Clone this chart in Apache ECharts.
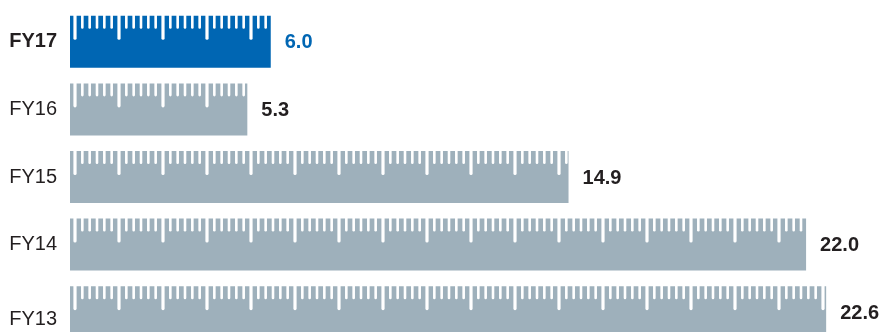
<!DOCTYPE html>
<html>
<head>
<meta charset="utf-8">
<script src="https://cdn.jsdelivr.net/npm/echarts@6/dist/echarts.min.js"></script>
<style>
  html, body { margin: 0; padding: 0; background: #fff; }
  #chart { width: 884px; height: 332px; }
</style>
</head>
<body>
<div id="chart"></div>
<script>
// 数据
const years = ['FY17', 'FY16', 'FY15', 'FY14', 'FY13'];
const amounts = [6.0, 5.3, 14.9, 22.0, 22.6];
const current = 'FY17';

const blue = '#0066b3';
const grey = '#9eb0bb';
const ink = '#231f20';
const font = '"Liberation Sans", Arial, Helvetica, sans-serif';

const chart = echarts.init(document.getElementById('chart'));

// 画尺子样式的条形
function renderRuler(params, api) {
    const v = api.value(0);
    const idx = params.dataIndex;
    const start = api.coord([0, idx]);
    const end = api.coord([v, idx]);
    const h = 52;
    const top = start[1] - h / 2;
    const isCur = years[idx] === current;
    const fill = isCur ? blue : grey;
    const children = [{
        type: 'rect',
        shape: { x: start[0], y: top, width: end[0] - start[0], height: h },
        style: { fill: fill }
    }];
    // 刻度线
    const step = 44 / 6;
    for (let k = 0; ; k++) {
        const x = start[0] + 5 + k * step;
        if (x > end[0] - 1) break;
        const major = k % 6 === 0;
        const w = major ? 3.2 : 2.6;
        const len = major ? 24 : 13;
        children.push({
            type: 'rect',
            shape: { x: x - w / 2, y: top - 1, width: w, height: len + 1, r: [0, 0, w / 2, w / 2] },
            style: { fill: '#fff' }
        });
    }
    // 数值标签
    children.push({
        type: 'text',
        style: {
            text: v.toFixed(1),
            x: end[0] + 14,
            y: start[1] + 1,
            verticalAlign: 'middle',
            align: 'left',
            fill: isCur ? blue : ink,
            fontFamily: font,
            fontWeight: 'bold',
            fontSize: 20
        }
    });
    return { type: 'group', children: children };
}

const option = {
    animation: false,
    grid: {
        left: 70,
        top: 8,
        width: 803,
        height: 338,
        outerBoundsMode: 'none'
    },
    xAxis: {
        type: 'value',
        min: 0,
        max: 24,
        show: false
    },
    yAxis: {
        type: 'category',
        data: years,
        inverse: true,
        axisLine: { show: false },
        axisTick: { show: false },
        axisLabel: {
            margin: 13,
            fontFamily: font,
            fontSize: 20,
            color: ink,
            formatter: function (value) {
                if (value === current) return '{cur|' + value + '}';
                if (value === 'FY13') return '{low|' + value + '}';
                return value;
            },
            rich: {
                cur: { fontFamily: font, fontSize: 20, fontWeight: 'bold', color: ink },
                low: { fontFamily: font, fontSize: 20, color: ink, padding: [15, 0, 0, 0] }
            }
        }
    },
    series: [{
        type: 'custom',
        renderItem: renderRuler,
        encode: { x: 0, y: 1 },
        data: amounts.map((v, i) => [v, i])
    }]
};

chart.setOption(option);
</script>
</body>
</html>
